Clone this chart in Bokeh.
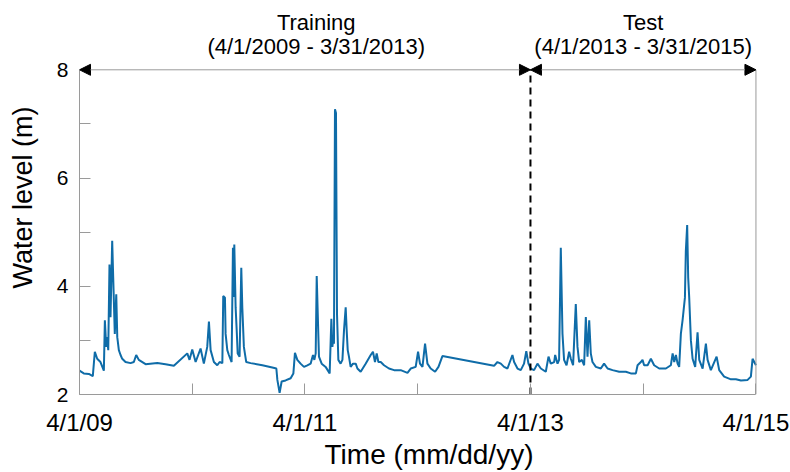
from bokeh.plotting import figure
from bokeh.models import Range1d, FixedTicker, Arrow, NormalHead, Label
from bokeh.embed import file_html
from bokeh.resources import INLINE

# years since 4/1/2009
years = [0.000, 0.038, 0.083, 0.118, 0.136, 0.157, 0.186, 0.216, 0.225, 0.237,
         0.246, 0.255, 0.266, 0.275, 0.290, 0.299, 0.313, 0.326, 0.335, 0.349,
         0.364, 0.379, 0.408, 0.453, 0.482, 0.503, 0.526, 0.586, 0.690, 0.763,
         0.837, 0.956, 0.976, 1.000, 1.030, 1.074, 1.103, 1.133, 1.148, 1.163,
         1.192, 1.222, 1.243, 1.267, 1.275, 1.290, 1.296, 1.311, 1.325, 1.349,
         1.361, 1.367, 1.373, 1.385, 1.394, 1.403, 1.420, 1.435, 1.444, 1.458,
         1.479, 1.518, 1.622, 1.710, 1.746, 1.755, 1.775, 1.793, 1.828, 1.873,
         1.897, 1.911, 1.932, 1.961, 1.991, 2.021, 2.050, 2.071, 2.083, 2.095,
         2.104, 2.119, 2.124, 2.148, 2.183, 2.219, 2.234, 2.243, 2.252, 2.257,
         2.266, 2.275, 2.284, 2.296, 2.316, 2.332, 2.346, 2.361, 2.370, 2.379,
         2.390, 2.405, 2.426, 2.450, 2.465, 2.494, 2.538, 2.583, 2.603, 2.621,
         2.636, 2.651, 2.672, 2.701, 2.745, 2.790, 2.849, 2.909, 2.938, 2.982,
         3.003, 3.020, 3.042, 3.065, 3.086, 3.115, 3.154, 3.184, 3.219, 3.677,
         3.707, 3.737, 3.766, 3.796, 3.840, 3.855, 3.885, 3.914, 3.943, 3.963,
         3.982, 4.003, 4.032, 4.062, 4.092, 4.136, 4.160, 4.180, 4.210, 4.219,
         4.240, 4.254, 4.269, 4.284, 4.298, 4.320, 4.343, 4.358, 4.378, 4.402,
         4.417, 4.432, 4.456, 4.476, 4.491, 4.506, 4.521, 4.535, 4.550, 4.580,
         4.624, 4.653, 4.684, 4.728, 4.787, 4.846, 4.890, 4.935, 4.950, 4.979,
         4.994, 5.008, 5.039, 5.068, 5.097, 5.142, 5.201, 5.245, 5.261, 5.275,
         5.290, 5.305, 5.319, 5.334, 5.349, 5.358, 5.370, 5.378, 5.390, 5.399,
         5.408, 5.423, 5.438, 5.461, 5.482, 5.497, 5.527, 5.556, 5.571, 5.600,
         5.651, 5.674, 5.718, 5.778, 5.822, 5.867, 5.926, 5.955, 5.970, 6.000]

# water level (m)
level = [2.44, 2.39, 2.38, 2.34, 2.79, 2.66, 2.60, 2.44, 3.37, 2.88,
         3.06, 2.82, 4.40, 3.43, 4.84, 4.16, 3.12, 3.85, 3.06, 2.82,
         2.73, 2.66, 2.60, 2.58, 2.60, 2.73, 2.64, 2.56, 2.58, 2.56,
         2.53, 2.76, 2.64, 2.83, 2.60, 2.85, 2.57, 2.88, 3.35, 2.82,
         2.60, 2.54, 2.60, 2.58, 3.82, 3.79, 3.12, 2.82, 2.73, 2.60,
         4.71, 3.80, 4.77, 3.60, 3.20, 2.76, 2.70, 4.34, 3.61, 2.88,
         2.60, 2.58, 2.54, 2.50, 2.48, 2.27, 2.03, 2.24, 2.26, 2.30,
         2.39, 2.77, 2.64, 2.57, 2.51, 2.54, 2.57, 2.73, 2.64, 2.76,
         4.19, 3.06, 2.70, 2.57, 2.51, 2.39, 3.40, 2.88, 3.06, 2.94,
         7.27, 7.20, 3.49, 2.64, 2.57, 2.64, 3.18, 3.61, 3.18, 2.82,
         2.70, 2.51, 2.57, 2.57, 2.48, 2.42, 2.57, 2.73, 2.79, 2.60,
         2.76, 2.60, 2.60, 2.54, 2.48, 2.45, 2.45, 2.40, 2.48, 2.51,
         2.79, 2.57, 2.51, 2.94, 2.57, 2.48, 2.42, 2.51, 2.71, 2.53,
         2.60, 2.57, 2.51, 2.48, 2.73, 2.60, 2.48, 2.45, 2.57, 2.80,
         2.57, 2.48, 2.45, 2.57, 2.48, 2.42, 2.70, 2.57, 2.60, 2.73,
         2.57, 2.64, 4.71, 3.12, 2.64, 2.54, 2.79, 2.66, 2.54, 3.67,
         2.88, 2.60, 2.64, 2.54, 3.43, 2.70, 3.37, 2.76, 2.60, 2.51,
         2.48, 2.57, 2.48, 2.45, 2.42, 2.42, 2.39, 2.39, 2.54, 2.60,
         2.64, 2.54, 2.54, 2.66, 2.54, 2.48, 2.48, 2.54, 2.76, 2.60,
         2.73, 2.57, 2.51, 3.12, 3.37, 3.55, 3.79, 4.65, 5.13, 4.16,
         3.79, 3.00, 2.66, 2.51, 3.15, 2.64, 2.48, 2.94, 2.64, 2.45,
         2.70, 2.45, 2.33, 2.28, 2.28, 2.26, 2.27, 2.33, 2.66, 2.54]

x_ticks = [0, 2, 4, 6]
x_tick_labels = ["4/1/09", "4/1/11", "4/1/13", "4/1/15"]
x_minor = [1, 3, 5]
y_ticks = [2, 4, 6, 8]
y_minor = [3, 5, 7]
y_min, y_max = 2, 8
x_min, x_max = 0, 6
split_year = 4
periods = [("Training", "(4/1/2009 - 3/31/2013)", 0, 4, 2.10),
           ("Test", "(4/1/2013 - 3/31/2015)", 4, 6, 5.0)]

FONT = "Liberation Sans"
GREY = "#9a9a9a"

p = figure(width=790, height=472, output_backend="svg", toolbar_location=None,
           x_range=Range1d(0, 6.2), y_range=Range1d(2, 9.2805),
           min_border_left=79, min_border_right=12, min_border_top=0,
           min_border_bottom=74)
p.background_fill_color = "white"
p.border_fill_color = "white"
p.outline_line_color = None
p.xgrid.visible = False
p.ygrid.visible = False

p.line(years, level, line_color="#0f6ca8", line_width=2)

# right frame edge and split line
p.line([x_max, x_max], [y_min, y_max], line_color=GREY, line_width=1)
p.line([split_year, split_year], [y_min, y_max], line_color="black",
       line_width=2, line_dash="7 5")

for ax in (p.xaxis[0], p.yaxis[0]):
    ax.axis_line_color = GREY
    ax.major_tick_line_color = GREY
    ax.minor_tick_line_color = GREY
    ax.major_tick_in = 11
    ax.major_tick_out = 0
    ax.minor_tick_in = 11
    ax.minor_tick_out = 0
    ax.major_label_text_font = FONT
    ax.major_label_text_color = "black"
    ax.axis_label_text_font = FONT
    ax.axis_label_text_font_style = "normal"
    ax.axis_label_text_color = "black"

p.xaxis.bounds = (x_min, x_max)
p.xaxis.ticker = FixedTicker(ticks=x_ticks, minor_ticks=x_minor)
p.xaxis.major_label_overrides = {t: l for t, l in zip(x_ticks, x_tick_labels)}
p.xaxis.major_label_text_font_size = "24px"
p.xaxis.major_label_standoff = 14
p.xaxis.axis_label = "Time (mm/dd/yy)"
p.xaxis.axis_label_text_font_size = "28px"
p.xaxis.axis_label_standoff = 0

p.yaxis.bounds = (y_min, y_max)
p.yaxis.ticker = FixedTicker(ticks=y_ticks, minor_ticks=y_minor)
p.yaxis.major_label_text_font_size = "21px"
p.yaxis.major_label_standoff = 11
p.yaxis.axis_label = "Water level (m)"
p.yaxis.axis_label_text_font_size = "27px"
p.yaxis.axis_label_standoff = 16

for name, rng, a, b, cx in periods:
    p.add_layout(Arrow(x_start=a, x_end=b, y_start=y_max, y_end=y_max,
                       line_color=GREY, line_width=1,
                       start=NormalHead(size=11, fill_color="black", line_color="black"),
                       end=NormalHead(size=11, fill_color="black", line_color="black")))
    p.add_layout(Label(x=cx, y=8.878, text=name, text_align="center",
                       text_baseline="middle", text_font=FONT,
                       text_font_size="22px", text_color="black"))
    p.add_layout(Label(x=cx, y=8.439, text=rng, text_align="center",
                       text_baseline="middle", text_font=FONT,
                       text_font_size="22px", text_color="black"))

open("out.html", "w").write(file_html(p, INLINE))
